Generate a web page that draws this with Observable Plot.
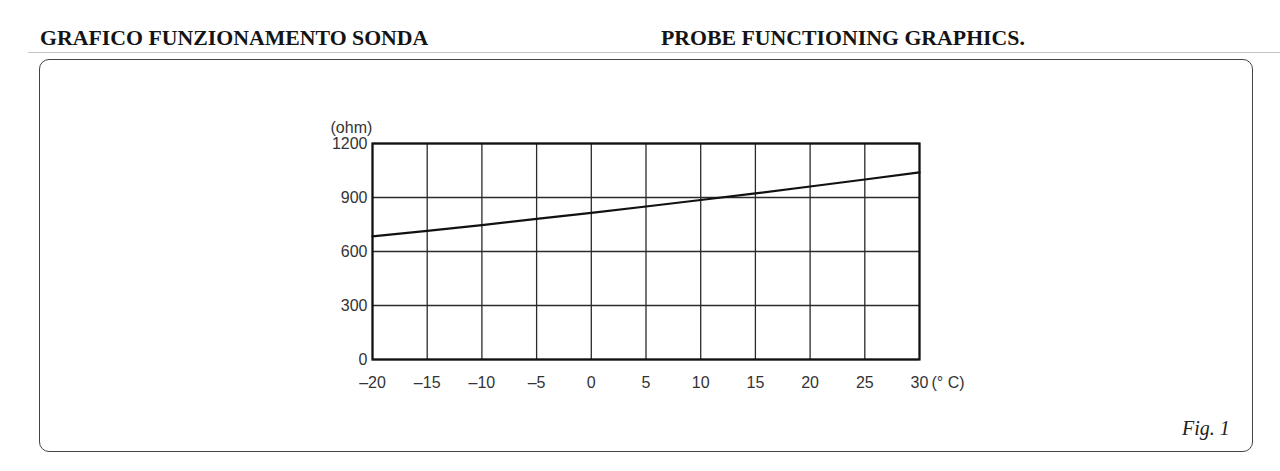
<!DOCTYPE html>
<html>
<head>
<meta charset="utf-8">
<script src="https://cdn.jsdelivr.net/npm/d3@7"></script>
<script src="https://cdn.jsdelivr.net/npm/@observablehq/plot@0.6"></script>
<style>
  html, body { margin: 0; padding: 0; background: #fff; }
  #wrap { position: relative; width: 1280px; height: 471px; overflow: hidden; background: #fff; }
  #wrap svg { position: absolute; left: 0; top: 0; }
  .ttl { position: absolute; font-family: "Liberation Serif", "DejaVu Serif", serif; font-weight: bold; font-size: 21.8px; color: #141414; white-space: nowrap; }
  #rule { position: absolute; left: 28px; top: 52px; width: 1252px; height: 0; border-top: 1px solid #c4c4c4; }
  #box { position: absolute; left: 39px; top: 59px; width: 1212px; height: 391px; border: 1.6px solid #444; border-radius: 10px; }
  #fig { position: absolute; left: 1182px; top: 417px; font-family: "Liberation Serif", serif; font-style: italic; font-size: 20px; color: #222; }
</style>
</head>
<body>
<div id="wrap">
  <div id="rule"></div>
  <div id="box"></div>
  <div class="ttl" style="left:40px; top:26px;">GRAFICO FUNZIONAMENTO SONDA</div>
  <div class="ttl" style="left:661px; top:26px;">PROBE FUNCTIONING GRAPHICS.</div>
  <div id="fig">Fig. 1</div>
</div>
<script>
// Temperature (°C) and probe resistance (ohm)
const temperature = [-20, -15, -10, -5, 0, 5, 10, 15, 20, 25, 30];
const resistance  = [684, 715, 747, 781, 815, 850, 886, 923, 961, 1000, 1040];
const xTicks = [-20, -15, -10, -5, 0, 5, 10, 15, 20, 25, 30];
const yTicks = [0, 300, 600, 900, 1200];
const yUnit = "(ohm)";
const xUnit = "(° C)";

const data = temperature.map((t, i) => ({t, r: resistance[i]}));
const FS = 16;
const fmtX = d => (d < 0 ? "\u2013" + Math.abs(d) : String(d));

const chart = Plot.plot({
  width: 1280,
  height: 471,
  marginLeft: 372,
  marginRight: 361,
  marginTop: 143,
  marginBottom: 112,
  style: {fontFamily: "Liberation Sans, Arial, sans-serif", fontSize: FS + "px", color: "#333", background: "transparent", overflow: "visible"},
  x: {domain: [-20, 30], label: null},
  y: {domain: [0, 1200], label: null},
  marks: [
    Plot.ruleX(xTicks, {stroke: "#2a2a2a", strokeWidth: 1.3}),
    Plot.ruleY(yTicks, {stroke: "#2a2a2a", strokeWidth: 1.3}),
    Plot.frame({stroke: "#111", strokeWidth: 2.2}),
    Plot.line(data, {x: "t", y: "r", stroke: "#111", strokeWidth: 2.2}),
    Plot.axisX({ticks: xTicks, tickSize: 0, tickPadding: 17, label: null, tickFormat: fmtX, fill: "#333", fontSize: FS}),
    Plot.axisY({ticks: yTicks, tickSize: 0, tickPadding: 5, label: null, tickFormat: d => String(d), fill: "#333", fontSize: FS}),
    Plot.text([yUnit], {frameAnchor: "top-left", dx: -42, dy: -16, textAnchor: "start", lineAnchor: "middle", fill: "#333", fontSize: FS}),
    Plot.text([xUnit], {frameAnchor: "bottom-right", dx: 12, dy: 23, textAnchor: "start", lineAnchor: "middle", fill: "#333", fontSize: FS})
  ]
});
document.getElementById("wrap").appendChild(chart);
</script>
</body>
</html>
